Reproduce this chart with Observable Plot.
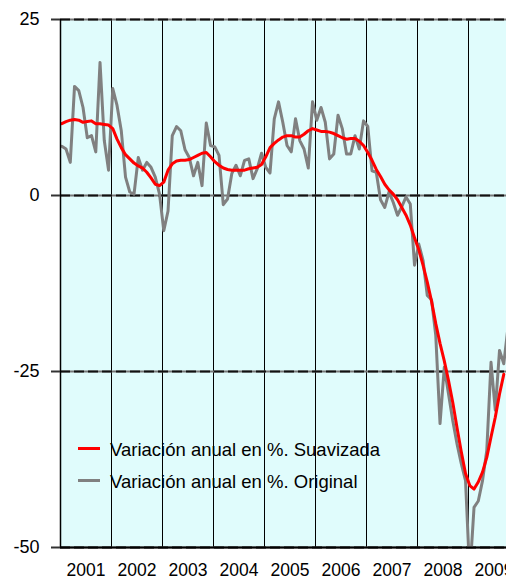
<!DOCTYPE html>
<html>
<head>
<meta charset="utf-8">
<script src="https://cdn.jsdelivr.net/npm/d3@7"></script>
<script src="https://cdn.jsdelivr.net/npm/@observablehq/plot@0.6"></script>
<style>
  html, body { margin: 0; padding: 0; background: #fff; overflow: hidden; }
  #wrap { position: relative; width: 506px; height: 579px; font-family: "Liberation Sans", Arial, sans-serif; }
  .legend { position: absolute; left: 78px; top: 432px; font-size: 18.5px; color: #000; }
  .item { display: flex; align-items: center; height: 32px; }
  .swatch { width: 22px; height: 3px; margin-right: 10px; }
  .item span { position: relative; top: 2px; white-space: nowrap; }
</style>
</head>
<body>
<div id="wrap"></div>
<script>
// ---- data (monthly, from Jan 2001) ----
const years = [2001, 2002, 2003, 2004, 2005, 2006, 2007, 2008, 2009];
const yTicks = [25, 0, -25, -50];
const seriesNames = ["Variación anual en %. Suavizada", "Variación anual en %. Original"];
const seriesColors = ["#ff0000", "#808080"];

const original = [
  7.0, 6.6, 4.7, 15.5, 14.9, 12.5, 8.2, 8.5, 6.2, 18.9, 7.8, 3.6,
  15.2, 12.8, 9.2, 2.6, 0.5, 0.2, 5.4, 3.6, 4.7, 4.0, 2.6, 0.2,
  -5.0, -2.2, 8.5, 9.8, 9.2, 6.5, 5.4, 2.8, 4.7, 1.4, 10.3, 7.1,
  6.9, 5.7, -1.3, -0.5, 3.1, 4.3, 2.8, 5.0, 5.2, 2.4, 3.8, 6.0,
  4.0, 3.2, 10.9, 13.3, 10.4, 7.1, 6.2, 10.9, 7.8, 6.6, 3.9, 13.3,
  10.7, 12.5, 10.4, 5.2, 5.9, 11.4, 9.5, 5.9, 5.9, 8.5, 6.6, 10.6,
  9.8, 3.5, 3.3, -0.6, -1.7, 0.5, -1.0, -2.8, -1.6, -0.2, -1.2, -9.9,
  -6.9, -9.2, -14.2, -14.8, -19.9, -32.4, -24.4, -28.2, -32.0, -35.3, -38.1, -40.5,
  -54.0, -44.3, -43.4, -40.5, -36.2, -23.7, -30.5, -22.0, -23.9, -18.7
];

const smoothed = [
  10.2, 10.5, 10.7, 10.8, 10.7, 10.4, 10.5, 10.6, 10.2, 10.2, 10.1, 10.0,
  9.5, 8.0, 6.8, 5.8, 5.2, 4.6, 4.2, 3.9, 3.3, 2.5, 1.6, 1.4,
  1.9, 3.6, 4.5, 4.9, 5.0, 5.0, 5.1, 5.4, 5.7, 6.0, 6.1, 5.5,
  4.8, 4.3, 3.9, 3.7, 3.6, 3.6, 3.6, 3.6, 3.8, 3.9, 4.0, 4.4,
  5.5, 6.8, 7.4, 7.9, 8.3, 8.5, 8.5, 8.3, 8.3, 8.7, 9.2, 9.5,
  9.3, 9.1, 9.1, 9.0, 8.8, 8.5, 8.2, 8.0, 8.1, 8.1, 7.7, 7.1,
  6.1, 5.0, 3.7, 2.7, 1.6, 0.8, 0.2, -0.6, -1.7, -2.8, -4.2, -6.0,
  -7.7, -9.9, -12.3, -15.0, -18.2, -21.0, -23.5, -26.3, -29.4, -33.0, -36.4, -39.5,
  -41.2, -41.7, -40.7, -39.3, -37.2, -34.3, -31.5, -28.2, -25.4
];

// month i -> fractional year (points sit slightly after the month start)
const toT = (i) => years[0] + (i + 0.3) / 12;
const origData = original.map((v, i) => ({t: toT(i), v}));
const smoothData = smoothed.map((v, i) => ({t: toT(i), v}));

const chart = Plot.plot({
  width: 506,
  height: 579,
  marginLeft: 60,
  marginRight: 0,
  marginTop: 19,
  marginBottom: 32,
  style: {fontFamily: "'Liberation Sans', Arial, sans-serif", fontSize: "17.5px", color: "#000", background: "transparent"},
  x: {type: "linear", domain: [2001, 2001 + 446 / 51]},
  y: {domain: [-50, 25]},
  marks: [
    Plot.frame({fill: "#e0fcfc", stroke: null}),
    Plot.ruleX(years.slice(1), {stroke: "#000", strokeWidth: 1}),
    Plot.ruleY(yTicks, {stroke: "#777", strokeWidth: 2}),
    Plot.ruleY(yTicks, {stroke: "#111", strokeWidth: 2, strokeDasharray: "10,4"}),
    Plot.line(origData, {x: "t", y: "v", stroke: seriesColors[1], strokeWidth: 3, clip: "frame", strokeLinejoin: "round"}),
    Plot.line(smoothData, {x: "t", y: "v", stroke: seriesColors[0], strokeWidth: 3, clip: "frame", strokeLinejoin: "round"}),
    Plot.ruleX([years[0]], {stroke: "#000", strokeWidth: 1.5}),
    Plot.ruleY([yTicks[3]], {stroke: "#000", strokeWidth: 2}),
    Plot.axisY({ticks: yTicks, tickSize: 9, tickPadding: 12, tickFormat: d => String(d), stroke: "#333", strokeWidth: 2, fontSize: 18, label: null}),
    Plot.axisX({ticks: years.map(y => y + 0.5), tickSize: 0, tickPadding: 16, tickFormat: d => String(Math.floor(d)), fontSize: 17.5, label: null})
  ]
});

const wrap = document.getElementById("wrap");
wrap.appendChild(chart);

const legend = document.createElement("div");
legend.className = "legend";
seriesNames.forEach((name, k) => {
  const item = document.createElement("div");
  item.className = "item";
  const sw = document.createElement("div");
  sw.className = "swatch";
  sw.style.background = seriesColors[k];
  const label = document.createElement("span");
  label.textContent = name;
  item.appendChild(sw);
  item.appendChild(label);
  legend.appendChild(item);
});
wrap.appendChild(legend);
</script>
</body>
</html>
